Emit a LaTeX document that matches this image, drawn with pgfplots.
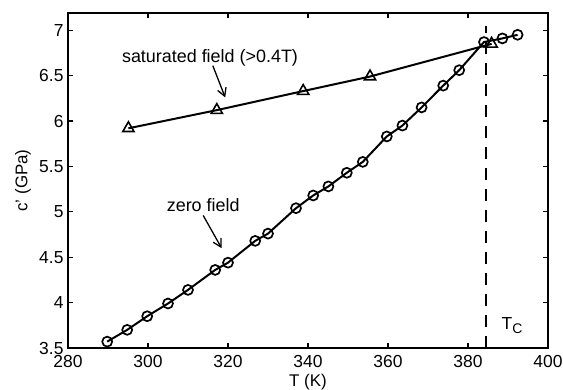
\documentclass[border=0pt]{standalone}
\usepackage{fontspec}
\setmainfont{Liberation Sans}
\usepackage{pgfplots}
\pgfplotsset{compat=1.18}
\usetikzlibrary{arrows.meta}

% zero-field elastic constant c' versus temperature
\pgfplotstableread{
T      c
289.8  3.57
294.8  3.70
299.8  3.85
305.0  3.99
310.0  4.14
316.8  4.36
320.0  4.44
326.8  4.68
330.0  4.76
337.0  5.04
341.3  5.18
345.1  5.28
349.7  5.43
353.7  5.55
359.7  5.83
363.6  5.95
368.4  6.15
373.8  6.39
377.8  6.56
384.0  6.87
388.6  6.91
392.4  6.95
}\zerofield

% c' in a saturating field (> 0.4 T)
\pgfplotstableread{
T      c
295.1  5.92
317.2  6.12
338.8  6.33
355.5  6.49
385.9  6.85
}\satfield

\begin{document}
\begin{tikzpicture}
\begin{axis}[
  name=ax,
  scale only axis,
  width=480bp, height=335bp,
  xmin=280, xmax=400, ymin=3.5, ymax=7.19,
  xtick={280,300,...,400},
  ytick={3.5,4,...,7},
  tick align=inside,
  major tick length=5pt,
  axis line style={line width=1.4pt},
  every tick/.style={black, line width=1.1pt},
  /pgf/number format/assume math mode=true,
  /pgf/number format/set thousands separator={},
  tick label style={font=\fontsize{17.5}{20}\selectfont},
  xticklabel style={yshift=-4pt},
  yticklabel style={xshift=-1pt},
  xlabel={T (K)},
  ylabel={c' (GPa)},
  label style={font=\fontsize{17}{20}\selectfont},
  xlabel style={at={(axis description cs:0.5,-0.1015)}, anchor=center},
  ylabel style={at={(axis description cs:-0.094,0.5)}, anchor=center},
  clip=false,
]
\addplot[black, line width=2pt, mark=o,
  mark options={line width=1.7pt, fill=white, solid}, mark size=5pt]
  table[x=T, y=c] {\zerofield};
\addplot[black, line width=2pt, mark=triangle,
  mark options={line width=1.6pt, fill=white, solid}, mark size=6.5pt]
  table[x=T, y=c] {\satfield};

% Curie temperature
\addplot[black, line width=2.2pt, dash pattern=on 12bp off 9bp]
  coordinates {(384.5,3.5) (384.5,7.05)};
\node[anchor=center] at (axis cs:391,3.75)
  {\fontsize{17.5}{20}\selectfont T\raisebox{-0.45ex}{\fontsize{14}{14}\selectfont C}};

% annotations
\node[font=\fontsize{18}{21}\selectfont] at (axis cs:315.5,6.70)
  {saturated field (>0.4T)};
\draw[-{Straight Barb[length=8pt,width=9pt]}, line width=1.3pt]
  (axis cs:316.2,6.61) -- (axis cs:319.3,6.26);
\node[font=\fontsize{18}{21}\selectfont] at (axis cs:313.8,5.07)
  {zero field};
\draw[-{Straight Barb[length=8pt,width=9pt]}, line width=1.3pt]
  (axis cs:313.8,4.96) -- (axis cs:318.4,4.60);
\end{axis}
% picture frame: room for the labels round the axis box
\pgfresetboundingbox
\path ([shift={(-68bp,-42bp)}]ax.south west) rectangle ([shift={(15bp,13bp)}]ax.north east);
\end{tikzpicture}
\end{document}
